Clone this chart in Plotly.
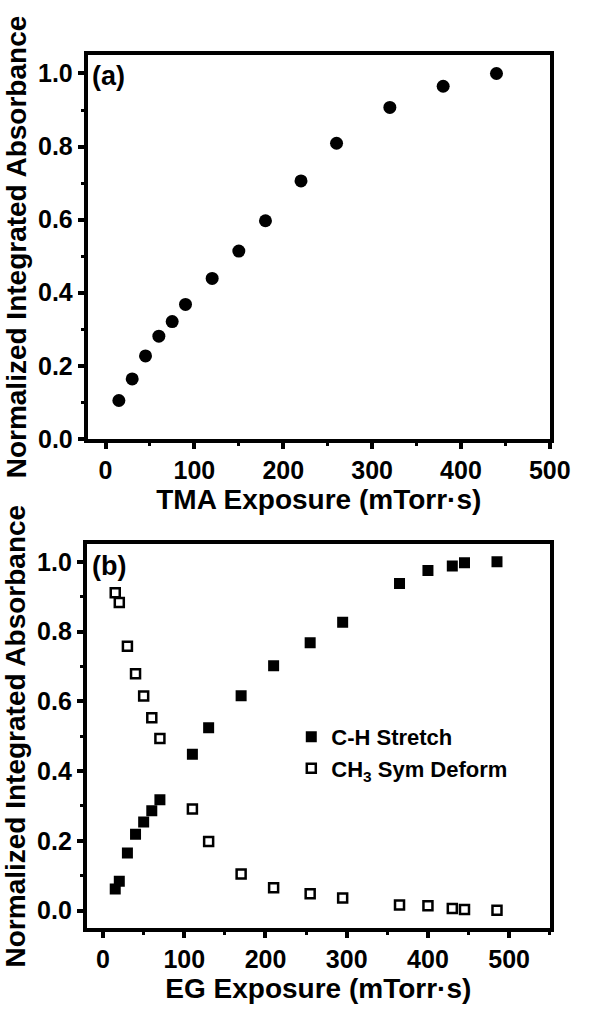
import plotly.graph_objects as go

# ---- data ----
tma_x = [15, 30, 45, 60, 75, 90, 120, 150, 180, 220, 260, 320, 380, 440]
tma_y = [0.105, 0.164, 0.227, 0.281, 0.321, 0.368, 0.439, 0.514, 0.597,
         0.706, 0.809, 0.907, 0.965, 1.0]

eg_x = [15, 20, 30, 40, 50, 60, 70, 110, 130, 170, 210, 255, 295, 365,
        400, 430, 445, 485]
ch_stretch_y = [0.062, 0.084, 0.165, 0.219, 0.254, 0.286, 0.318, 0.448,
                0.524, 0.616, 0.702, 0.768, 0.827, 0.938, 0.975, 0.988,
                0.997, 1.0]
ch3_deform_y = [0.911, 0.883, 0.758, 0.679, 0.615, 0.553, 0.493, 0.291,
                0.198, 0.105, 0.065, 0.048, 0.036, 0.016, 0.014, 0.006,
                0.003, 0.001]

x_ticks = [0, 100, 200, 300, 400, 500]
y_ticks = [0.0, 0.2, 0.4, 0.6, 0.8, 1.0]

W, H = 592, 1011
FONT = "Liberation Sans, Arial, sans-serif"
NARROW = "Liberation Sans Narrow, Arial Narrow, Liberation Sans, sans-serif"


def px_x(p):
    return p / W


def px_y(p):
    return 1 - p / H


fig = go.Figure()

fig.add_trace(go.Scatter(
    x=tma_x, y=tma_y, mode="markers", xaxis="x", yaxis="y",
    marker=dict(symbol="circle", size=13, color="black"),
    showlegend=False))

fig.add_trace(go.Scatter(
    x=eg_x, y=ch_stretch_y, mode="markers", xaxis="x2", yaxis="y2",
    name="C-H Stretch",
    marker=dict(symbol="square", size=11, color="black")))

fig.add_trace(go.Scatter(
    x=eg_x, y=ch3_deform_y, mode="markers", xaxis="x2", yaxis="y2",
    name="CH<sub>3</sub> Sym Deform",
    marker=dict(symbol="square-open", size=9, color="black",
                line=dict(width=2.5, color="black"))))

tickfont = dict(family=NARROW, size=25, color="black", weight="bold")
titlefont_x = dict(family=FONT, size=28, color="black", weight="bold")
titlefont_y = dict(family=FONT, size=28, color="black", weight="bold")

common_x = dict(
    showline=True, linewidth=4, linecolor="black", mirror=True,
    ticks="outside", ticklen=6, tickwidth=4, tickcolor="black",
    tickvals=x_ticks, tickfont=tickfont, showgrid=False, zeroline=False,
    minor=dict(ticks="outside", ticklen=3, tickwidth=3, dtick=50,
               tick0=0, tickcolor="black", showgrid=False),
)
common_y = dict(
    showline=True, linewidth=4, linecolor="black", mirror=True,
    ticks="outside", ticklen=6, tickwidth=4, tickcolor="black",
    tickvals=y_ticks, tickformat=".1f", tickfont=tickfont,
    showgrid=False, zeroline=False,
    minor=dict(ticks="outside", ticklen=3, tickwidth=3, dtick=0.1,
               tick0=0, tickcolor="black", showgrid=False),
)

fig.update_layout(
    width=W, height=H,
    margin=dict(l=0, r=0, t=0, b=0),
    paper_bgcolor="white", plot_bgcolor="white",
    xaxis=dict(common_x, domain=[px_x(91), px_x(570)], range=[-20, 500],
               anchor="y",
               title=dict(text="TMA Exposure (mTorr·s)", font=titlefont_x,
                          standoff=2)),
    yaxis=dict(common_y, domain=[px_y(445), px_y(56)], range=[0, 1.05],
               anchor="x",
               title=dict(text="Normalized Integrated Absorbance",
                          font=titlefont_y, standoff=4)),
    xaxis2=dict(common_x, domain=[px_x(90), px_x(570)], range=[-20, 550],
                anchor="y2",
                title=dict(text="EG Exposure (mTorr·s)", font=titlefont_x,
                           standoff=2)),
    yaxis2=dict(common_y, domain=[px_y(941), px_y(552)], range=[-0.05, 1.05],
                anchor="x2",
                title=dict(text="Normalized Integrated Absorbance",
                           font=titlefont_y, standoff=4)),
    legend=dict(x=px_x(302), y=px_y(726), xanchor="left", yanchor="top",
                font=dict(family=FONT, size=22, color="black",
                          weight="bold"),
                bgcolor="rgba(0,0,0,0)", borderwidth=0,
                tracegroupgap=0, itemsizing="trace"),
    annotations=[
        dict(text="(a)", x=px_x(93), y=px_y(77), xref="paper", yref="paper",
             xanchor="left", yanchor="middle", showarrow=False,
             font=dict(family=FONT, size=27, color="black", weight="bold")),
        dict(text="(b)", x=px_x(93), y=px_y(574), xref="paper", yref="paper",
             xanchor="left", yanchor="middle", showarrow=False,
             font=dict(family=FONT, size=27, color="black", weight="bold")),
    ],
)

fig.write_html("out.html")
